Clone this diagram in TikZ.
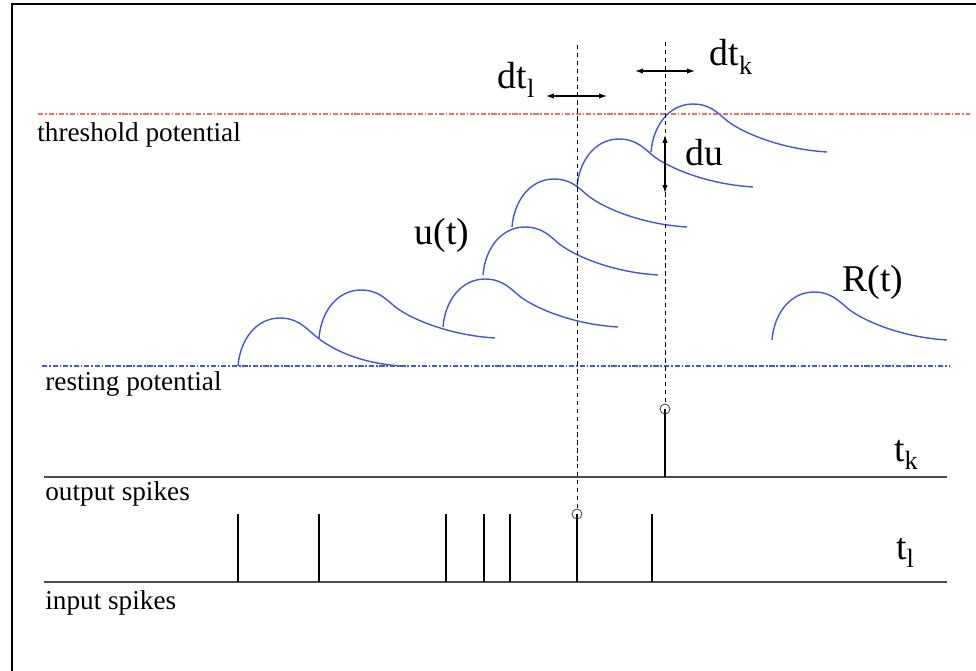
\documentclass[tikz,border=0pt]{standalone}
\usepackage{fontspec}
\setmainfont{Liberation Serif}
\usetikzlibrary{arrows.meta,positioning}
\definecolor{thresh}{RGB}{240,110,100}
\definecolor{psp}{RGB}{70,85,225}
\newcommand{\lowsub}[1]{\raisebox{-0.5ex}{\fontsize{15}{15}\selectfont #1}}

\begin{document}
\begin{tikzpicture}[x=0.02cm,y=-0.02cm,>=Latex,
  lbl/.style={anchor=west,inner sep=0pt,font=\fontsize{15.5}{18}\selectfont},
  sym/.style={inner sep=0pt,font=\fontsize{21.5}{24}\selectfont},
  level/.style={line width=1pt,dash pattern=on 3pt off 1pt on 1pt off 1pt},
  base/.style={draw=black!70,line width=0.9pt},
  spike/.style={line width=1.1pt},
  guide/.style={line width=0.5pt,dash pattern=on 2.5pt off 2pt},
  dim/.style={<->,line width=0.6pt,>={Latex[length=4.5pt,width=3pt]}},
  bump/.style={draw=psp,line width=0.8pt},
  spot/.style={circle,draw=black!70,line width=0.5pt,inner sep=0pt,minimum size=5.7pt}]
\useasboundingbox (0,0) rectangle (976,670);
\draw[line width=1.3pt] (12,700) -- (12,4) -- (1000,4);

\coordinate (th0) at (38,114); \coordinate (th1) at (970,114);
\coordinate (rs0) at (42,366); \coordinate (rs1) at (950,366);
\coordinate (out0) at (44,477); \coordinate (out1) at (947,477);
\coordinate (in0) at (44,582); \coordinate (in1) at (947,582);
\draw[level,draw=thresh] (th0) -- (th1);
\draw[level,draw=psp] (rs0) -- (rs1);
\draw[base] (out0) -- (out1); \draw[base] (in0) -- (in1);

\node[lbl] (thlab) at (37,135) {threshold potential};
\node[lbl] (rslab) at (45,384) {resting potential};
\node[lbl] (outlab) at (45,494) {output spikes};
\node[lbl] (inlab) at (45,603) {input spikes};

\foreach \sx/\sy/\len in {238/366/164,319/338/176,443/327/175,483/275/175,512/227/175,577/187/176,651/152/176,772/340/175}
  \draw[bump,shift={(\sx,\sy)}] (0,0) .. controls (2,-26) and (18,-48) .. (42,-48) .. controls (56,-48) and (64,-42) .. (74,-33) .. controls (86,-22) and (\len-50,-3) .. (\len,0);

\foreach \x in {238,319,446,484,510,652} \draw[spike] (\x,582) -- (\x,514);
\node[spot] (cl) at (577,514) {};
\node[spot] (ck) at (665,409) {};
\coordinate (cl0) at (577,582); \coordinate (ck0) at (665,477);
\draw[spike] (cl0) -- (cl.center); \draw[spike] (ck0) -- (ck.center);
\coordinate (gl) at (577,45); \coordinate (gk) at (665,42);
\draw[guide] (gl) -- (cl); \draw[guide] (gk) -- (ck);

\draw[dim] (546,96) -- (607,96);
\draw[dim] (635,71) -- (695,71);
\draw[dim] (665,135) -- (665,193);

\node[sym] (dtl) at (516,80) {dt\lowsub{l}};
\node[sym] (dtk) at (731,57) {dt\lowsub{k}};
\node[sym] (du) at (704,153) {du};
\node[sym] (ut) at (442,235) {u(t)};
\node[sym] (rt) at (873,282) {R(t)};
\node[sym] (tk) at (906,455) {t\lowsub{k}};
\node[sym] (tl) at (905,553) {t\lowsub{l}};
\end{tikzpicture}
\end{document}
